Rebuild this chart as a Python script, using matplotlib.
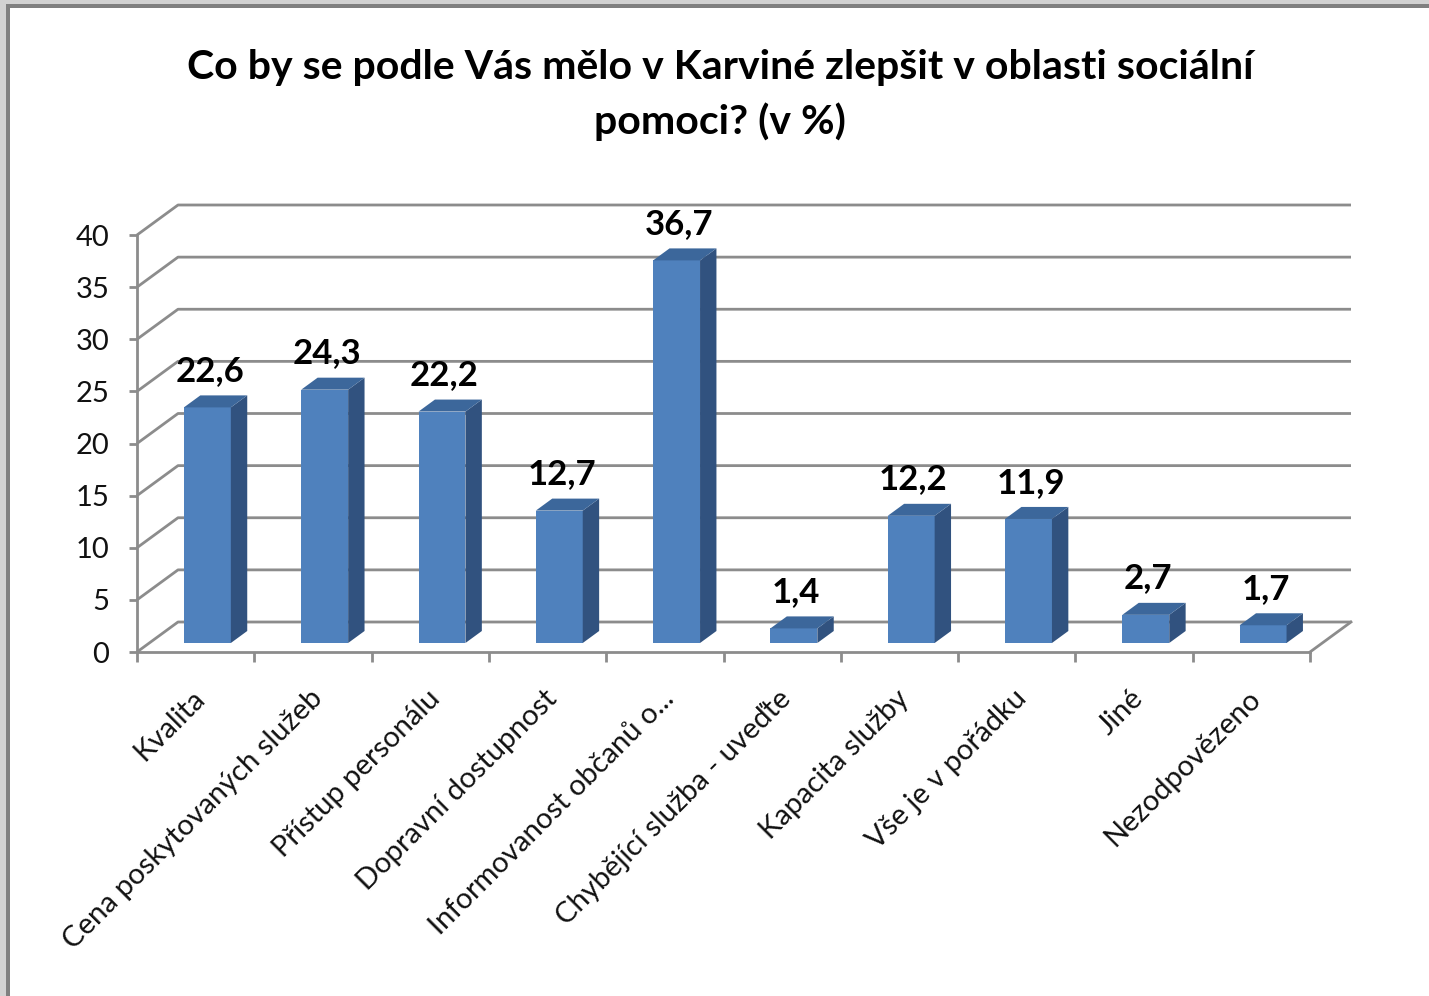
import matplotlib
matplotlib.use("Agg")
import matplotlib.pyplot as plt
import matplotlib.transforms as mtransforms
from matplotlib.patches import Polygon, Rectangle

plt.rcParams['font.family'] = ['Lato', 'DejaVu Sans']

# data
categories = ['Kvalita', 'Cena poskytovaných služeb', 'Přístup personálu',
              'Dopravní dostupnost', 'Informovanost občanů o...',
              'Chybějící služba - uveďte', 'Kapacita služby', 'Vše je v pořádku',
              'Jiné', 'Nezodpovězeno']
values = [22.6, 24.3, 22.2, 12.7, 36.7, 1.4, 12.2, 11.9, 2.7, 1.7]
value_labels = ['22,6', '24,3', '22,2', '12,7', '36,7', '1,4', '12,2', '11,9', '2,7', '1,7']
yticks = [0, 5, 10, 15, 20, 25, 30, 35, 40]

title = 'Co by se podle Vás mělo v Karviné zlepšit v oblasti sociální\npomoci? (v %)'

# colours
front_col = '#4f81bd'
top_col = '#3c679b'
side_col = '#31527f'
grid_col = '#8c8c8c'

W, H = 1429, 996
fig = plt.figure(figsize=(W / 100, H / 100), dpi=100)

# slide frame (gray edges at top and left)
fig.patches.append(Rectangle((0, 0), 1, 1, transform=fig.transFigure,
                             facecolor='#d2d2d2', edgecolor='none', zorder=-10))
fig.patches.append(Rectangle((6 / W, 0), 1, 1 - 4 / H, transform=fig.transFigure,
                             facecolor='#808080', edgecolor='none', zorder=-9))
fig.patches.append(Rectangle((10 / W, 0), 1, 1 - 8 / H, transform=fig.transFigure,
                             facecolor='white', edgecolor='none', zorder=-8))

# front plane of the 3-D chart
ax_left, ax_right = 137, 1310
ax_bottom, ax_top = 652, 235
ax = fig.add_axes([ax_left / W, 1 - ax_bottom / H,
                   (ax_right - ax_left) / W, (ax_bottom - ax_top) / H])
ax.set_facecolor('none')
n = len(categories)
ax.set_xlim(0, n)
ax.set_ylim(0, 40)

# depth of the chart (in data units)
DX = 41 / ((ax_right - ax_left) / n)
DY = 30 / ((ax_bottom - ax_top) / 40)

# wall and floor gridlines
for v in yticks:
    ax.plot([0, DX, n + DX], [v, v + DY, v + DY], color=grid_col, lw=2.0,
            clip_on=False, zorder=1, solid_capstyle='butt')
ax.plot([n, n + DX], [0, DY], color=grid_col, lw=2.0, clip_on=False, zorder=1)

# bars with pseudo 3-D faces
bw = 0.40
f = 0.30           # depth position of bar front face
sd = 0.40          # bar depth relative to chart depth
xs = [i + 0.5 + 0.10 for i in range(n)]
ax.bar(xs, values, width=bw, bottom=f * DY, color=front_col, edgecolor='none',
       zorder=3, clip_on=False)
for x, v in zip(xs, values):
    x0, x1 = x - bw / 2, x + bw / 2
    y0, y1 = f * DY, f * DY + v
    ddx, ddy = sd * DX, sd * DY
    ax.add_patch(Polygon([[x1, y0], [x1 + ddx, y0 + ddy], [x1 + ddx, y1 + ddy], [x1, y1]],
                         closed=True, facecolor=side_col, edgecolor='none',
                         zorder=3, clip_on=False))
    ax.add_patch(Polygon([[x0, y1], [x1, y1], [x1 + ddx, y1 + ddy], [x0 + ddx, y1 + ddy]],
                         closed=True, facecolor=top_col, edgecolor='none',
                         zorder=3, clip_on=False))

for x, v, lab in zip(xs, values, value_labels):
    ax.annotate(lab, xy=(x + 0.02, v + f * DY + sd * DY), xytext=(0, 6),
                textcoords='offset points', ha='center', va='bottom',
                fontsize=25, fontweight='bold', color='black', zorder=5,
                annotation_clip=False)

# axes styling
for s in ['top', 'right']:
    ax.spines[s].set_visible(False)
for s in ['left', 'bottom']:
    ax.spines[s].set_color(grid_col)
    ax.spines[s].set_linewidth(2.0)
    ax.spines[s].set_zorder(2)

ax.set_yticks(yticks)
ax.set_yticklabels([str(t) for t in yticks])
ax.tick_params(axis='y', length=6, width=2, color=grid_col, labelsize=21,
               labelcolor='#111111', pad=14)

ax.set_xticks(range(n + 1))
ax.set_xticklabels([])
ax.tick_params(axis='x', which='major', length=7, width=2, color=grid_col)
ax.set_xticks([i + 0.5 for i in range(n)], minor=True)
ax.set_xticklabels(categories, minor=True, rotation=45, ha='right',
                   rotation_mode='anchor', fontsize=21, color='#111111')
ax.tick_params(axis='x', which='minor', length=0, pad=24)
offset = mtransforms.ScaledTranslation(-4 / 100, 0, fig.dpi_scale_trans)
for lbl in ax.get_xticklabels(minor=True):
    lbl.set_transform(lbl.get_transform() + offset)

fig.text(720 / W, 1 - 95 / H, title, ha='center', va='center', fontsize=29.5,
         fontweight='bold', linespacing=1.5, color='black')

fig.savefig('out.png', dpi=100)
